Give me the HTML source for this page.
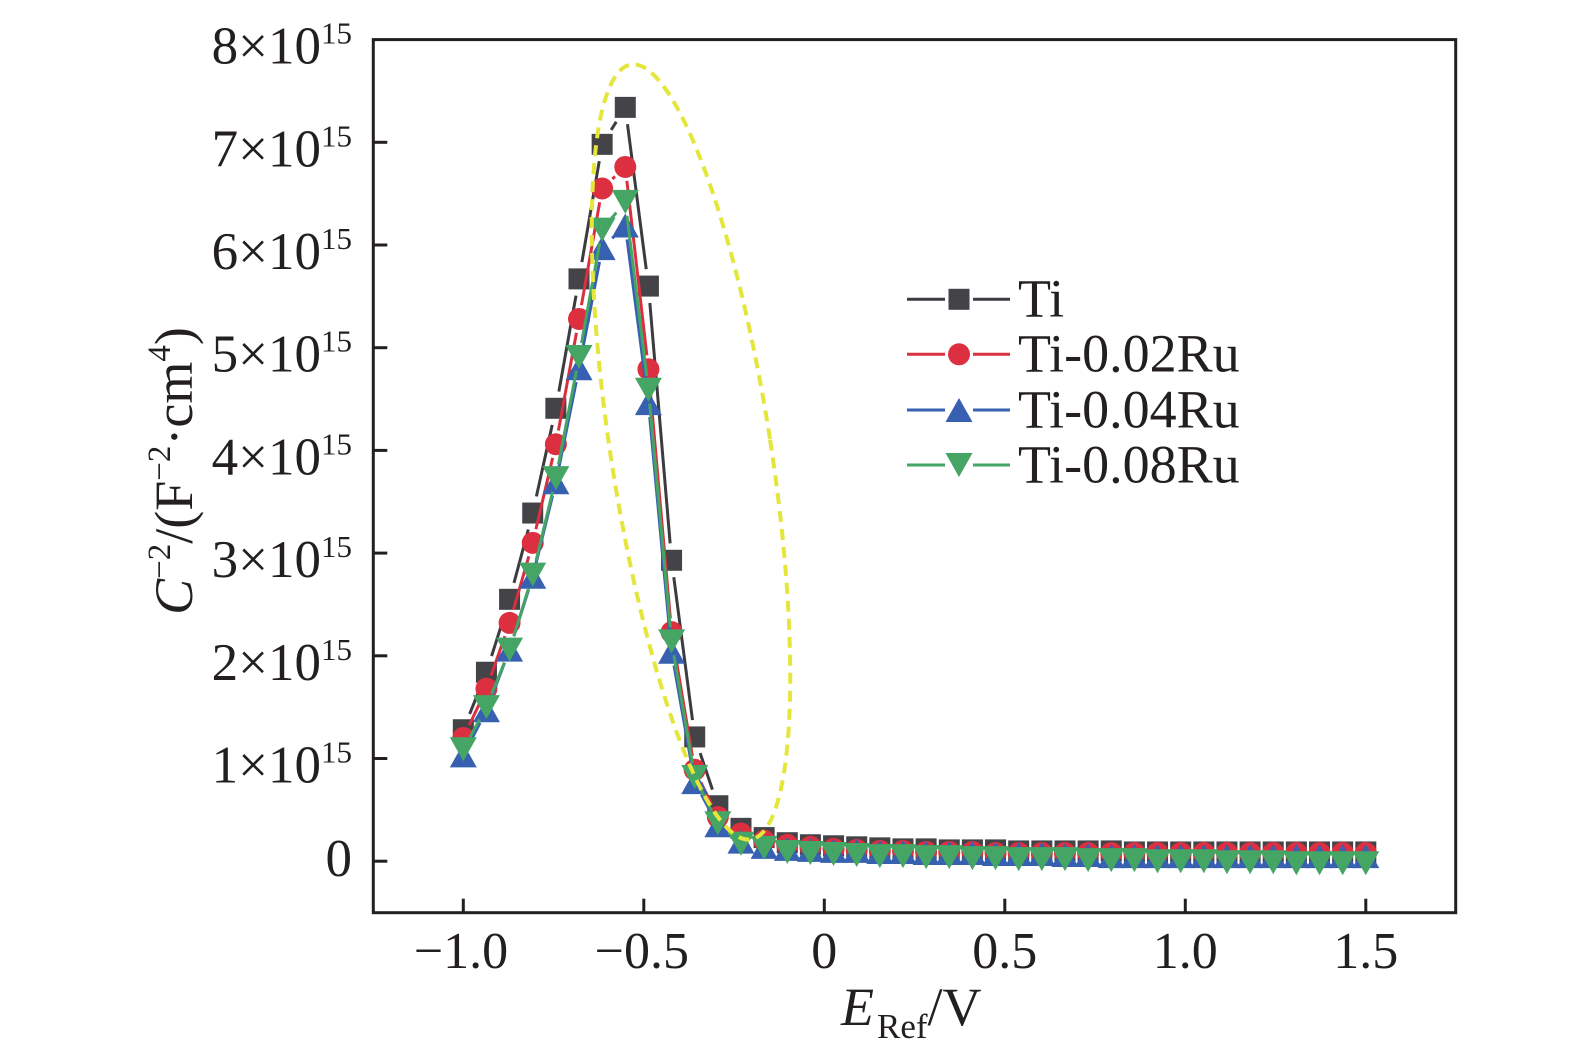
<!DOCTYPE html>
<html>
<head>
<meta charset="utf-8">
<style>
html,body{margin:0;padding:0;background:#fff;}
svg{display:block;}
text{font-family:"Liberation Serif","Times New Roman",serif;fill:#231f20;}
</style>
</head>
<body>
<svg id="chart" width="1575" height="1056" viewBox="0 0 1575 1056" xmlns="http://www.w3.org/2000/svg">
<rect x="0" y="0" width="1575" height="1056" fill="#fff"/>
<g id="series"></g>
<ellipse cx="691" cy="452" rx="80" ry="392" transform="rotate(-8.8 691 452)" fill="none" stroke="#e4e63c" stroke-width="4" stroke-dasharray="11 7"/>
<!-- frame -->
<rect x="373.3" y="39.6" width="1082.4" height="873.1" fill="none" stroke="#231f20" stroke-width="3"/>
<g stroke="#231f20" stroke-width="3" id="ticks">
<line x1="463.3" y1="912.7" x2="463.3" y2="898.7"/>
<line x1="643.8" y1="912.7" x2="643.8" y2="898.7"/>
<line x1="824.3" y1="912.7" x2="824.3" y2="898.7"/>
<line x1="1004.8" y1="912.7" x2="1004.8" y2="898.7"/>
<line x1="1185.3" y1="912.7" x2="1185.3" y2="898.7"/>
<line x1="1365.8" y1="912.7" x2="1365.8" y2="898.7"/>
<line x1="373.3" y1="861.2" x2="387.3" y2="861.2"/>
<line x1="373.3" y1="758.5" x2="387.3" y2="758.5"/>
<line x1="373.3" y1="655.8" x2="387.3" y2="655.8"/>
<line x1="373.3" y1="553.1" x2="387.3" y2="553.1"/>
<line x1="373.3" y1="450.4" x2="387.3" y2="450.4"/>
<line x1="373.3" y1="347.7" x2="387.3" y2="347.7"/>
<line x1="373.3" y1="245.0" x2="387.3" y2="245.0"/>
<line x1="373.3" y1="142.3" x2="387.3" y2="142.3"/>
</g>
<!-- x tick labels -->
<g font-size="52" text-anchor="middle">
<text x="461" y="968">−1.0</text>
<text x="641.8" y="968">−0.5</text>
<text x="824.3" y="968">0</text>
<text x="1004.8" y="968">0.5</text>
<text x="1185.3" y="968">1.0</text>
<text x="1365.8" y="968">1.5</text>
</g>
<!-- y tick labels -->
<g font-size="53" text-anchor="end">
<text x="352" y="876">0</text>
<text x="352" y="782.5">1×10<tspan font-size="31" dy="-20">15</tspan></text>
<text x="352" y="679.8">2×10<tspan font-size="31" dy="-20">15</tspan></text>
<text x="352" y="577.1">3×10<tspan font-size="31" dy="-20">15</tspan></text>
<text x="352" y="474.4">4×10<tspan font-size="31" dy="-20">15</tspan></text>
<text x="352" y="371.7">5×10<tspan font-size="31" dy="-20">15</tspan></text>
<text x="352" y="269.0">6×10<tspan font-size="31" dy="-20">15</tspan></text>
<text x="352" y="166.3">7×10<tspan font-size="31" dy="-20">15</tspan></text>
<text x="352" y="63.6">8×10<tspan font-size="31" dy="-20">15</tspan></text>
</g>
<!-- axis titles -->
<text x="841" y="1025" font-size="54"><tspan font-style="italic">E</tspan><tspan font-size="35" dy="13" dx="3">Ref</tspan><tspan dy="-13">/V</tspan></text>
<text transform="translate(192 471) rotate(-90)" x="0" y="0" font-size="54" text-anchor="middle"><tspan font-style="italic">C</tspan><tspan font-size="33" dy="-22">−2</tspan><tspan dy="22">/(F</tspan><tspan font-size="33" dy="-22">−2</tspan><tspan dy="22">·cm</tspan><tspan font-size="33" dy="-22">4</tspan><tspan dy="22">)</tspan></text>
<!-- legend -->
<g stroke-width="3">
<line x1="907" y1="299.3" x2="945" y2="299.3" stroke="#3c3c40"/>
<line x1="973" y1="299.3" x2="1010" y2="299.3" stroke="#3c3c40"/>
<rect x="948.5" y="288.8" width="21" height="21" fill="#434348"/>
<line x1="907" y1="354.3" x2="945" y2="354.3" stroke="#d93040"/>
<line x1="973" y1="354.3" x2="1010" y2="354.3" stroke="#d93040"/>
<circle cx="959" cy="354.3" r="11" fill="#dc3040"/>
<line x1="907" y1="410" x2="945" y2="410" stroke="#3760b0"/>
<line x1="973" y1="410" x2="1010" y2="410" stroke="#3760b0"/>
<polygon points="959,398 972.5,422 945.5,422" fill="#3760b0"/>
<line x1="907" y1="465" x2="945" y2="465" stroke="#45a565"/>
<line x1="973" y1="465" x2="1010" y2="465" stroke="#45a565"/>
<polygon points="945.5,453 972.5,453 959,477" fill="#45a565"/>
</g>
<g font-size="54">
<text x="1018" y="316.7">Ti</text>
<text x="1018" y="371.7">Ti-0.02Ru</text>
<text x="1018" y="427.4">Ti-0.04Ru</text>
<text x="1018" y="482.4">Ti-0.08Ru</text>
</g>
</svg>
<script>
(function(){
var NS="http://www.w3.org/2000/svg";
var g=document.getElementById("series");
function X(v){return 824.3+v*361;}
function Y(v){return 861.2-v*102.7;}
function fill(a,n,v){while(a.length<n)a.push(v);return a;}
var N=40;
var ti=[1.28,1.84,2.55,3.39,4.41,5.67,6.98,7.34,5.60,2.93,1.21,0.54,0.32,0.23,0.18,0.16,0.15,0.14,0.13,0.12,0.12,0.11,0.11,0.11,0.10,0.10,0.10,0.10,0.10,0.09];
fill(ti,N,0.09);
var r2=[1.20,1.68,2.32,3.10,4.06,5.28,6.55,6.76,4.79,2.23,0.89,0.43,0.27,0.20,0.16,0.14,0.12,0.11,0.10,0.10,0.09,0.09,0.09,0.08];
fill(r2,N,0.08);
var b4=[1.03,1.47,2.06,2.77,3.69,4.80,5.97,6.19,4.46,2.04,0.77,0.35,0.19,0.14,0.12,0.11,0.10,0.10,0.09,0.09,0.08,0.08,0.08,0.07,0.07,0.07,0.06,0.06];
fill(b4,N,0.05);
var g8=[1.09,1.50,2.06,2.79,3.73,4.91,6.15,6.42,4.59,2.14,0.82,0.37,0.17,0.13,0.09,0.08,0.07,0.06,0.05,0.05,0.04,0.04,0.03,0.03,0.02,0.02,0.02,0.01,0.01,0.01,0.0,0.0,0.0,-0.01,-0.01,-0.01,-0.02,-0.02,-0.02,-0.02];
var series=[
 {d:ti,lc:"#3c3c40",mc:"#434348",m:"sq",gap:17},
 {d:r2,lc:"#d93040",mc:"#dc3040",m:"ci",gap:14},
 {d:b4,lc:"#3760b0",mc:"#3760b0",m:"tu",gap:14},
 {d:g8,lc:"#45a565",mc:"#45a565",m:"td",gap:14}
];
function el(n,a){var e=document.createElementNS(NS,n);for(var k in a)e.setAttribute(k,a[k]);g.appendChild(e);return e;}
series.forEach(function(s){
 var gap=s.gap;
 var pts=[];
 for(var i=0;i<N;i++){pts.push([X(-1+i*2.5/39),Y(s.d[i])]);}
 for(var i=0;i<N-1;i++){
  var p=pts[i],q=pts[i+1];var dx=q[0]-p[0],dy=q[1]-p[1];var L=Math.sqrt(dx*dx+dy*dy);
  if(L>2*gap+1){var ux=dx/L,uy=dy/L;
   el("line",{x1:p[0]+ux*gap,y1:p[1]+uy*gap,x2:q[0]-ux*gap,y2:q[1]-uy*gap,stroke:s.lc,"stroke-width":3});}
 }
 pts.forEach(function(p){
  var x=p[0],y=p[1];
  if(s.m=="sq")el("rect",{x:x-10.5,y:y-10.5,width:21,height:21,fill:s.mc});
  else if(s.m=="ci")el("circle",{cx:x,cy:y,r:11,fill:s.mc});
  else if(s.m=="tu")el("polygon",{points:x+","+(y-12)+" "+(x+13.5)+","+(y+12)+" "+(x-13.5)+","+(y+12),fill:s.mc});
  else el("polygon",{points:(x-13.5)+","+(y-12)+" "+(x+13.5)+","+(y-12)+" "+x+","+(y+12),fill:s.mc});
 });
});
})();
</script>
</body>
</html>
